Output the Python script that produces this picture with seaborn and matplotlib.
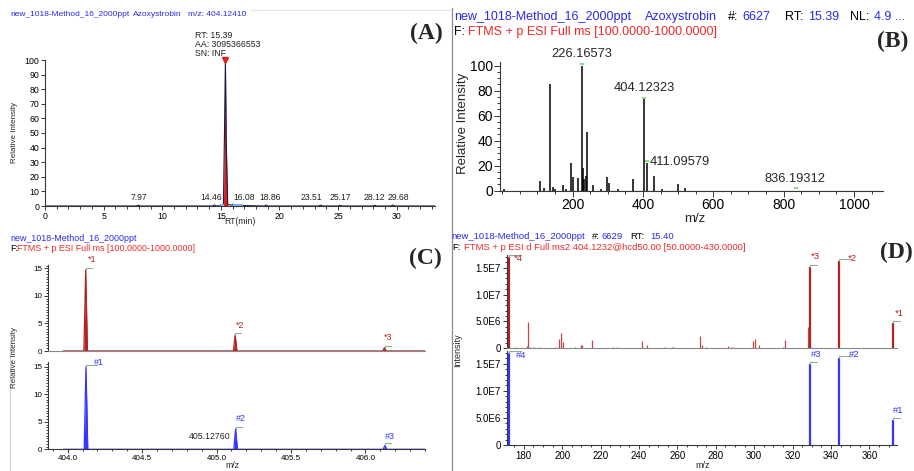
import numpy as np
import pandas as pd
import matplotlib
matplotlib.use("Agg")
import matplotlib.pyplot as plt
import seaborn as sns
from matplotlib.ticker import MultipleLocator, FixedLocator, FuncFormatter, NullFormatter
from matplotlib.lines import Line2D

# ---------------- data ----------------
# (A) extracted ion chromatogram  m/z 404.12410
a_rt = [0.0, 7.80, 7.97, 8.15, 14.30, 14.46, 14.62, 15.22, 15.32, 15.39, 15.46, 15.58,
        15.95, 16.08, 16.25, 18.70, 18.86, 19.02, 23.35, 23.51, 23.67, 25.00, 25.17, 25.34,
        27.95, 28.12, 28.29, 29.50, 29.68, 29.85, 33.27]
a_int = [0, 0, 0.5, 0, 0, 0.7, 0, 0.3, 55, 100, 45, 1.0,
         0.6, 1.2, 0.4, 0, 0.6, 0, 0, 0.6, 0, 0, 0.4, 0,
         0, 0.4, 0, 0, 0.6, 0, 0]
a_label_rt = [7.97, 14.46, 16.08, 18.86, 23.51, 25.17, 28.12, 29.68]
a_label_txt = ["7.97", "14.46", "16.08", "18.86", "23.51", "25.17", "28.12", "29.68"]
a_apex_rt = 15.39
a_apex_int = 100
a_win_start = [14.95, 16.00]
a_win_end = [15.28, 16.85]

# (B) full-scan spectrum at RT 15.39
b_mz = [5, 107.7, 120, 136.1, 145.5, 150, 172, 181, 194.9, 200.5, 216.5, 226.17, 230.7, 233.5,
        237.5, 242, 257.4, 280, 298.9, 303.7, 330, 371, 404.12, 411.10, 431.5, 455, 500.6, 519.6]
b_int = [1, 8, 2, 85, 3, 1.5, 4.5, 1.5, 22, 11, 10, 100, 18, 9,
         12, 47, 4.5, 1, 10.7, 6.5, 1, 9, 73, 22.5, 11.7, 1.5, 5, 2]
b_lab_mz = [226.17, 404.12, 411.10, 836.19]
b_lab_int = [100, 73, 22.5, 0.5]
b_lab_txt = ["226.16573", "404.12323", "411.09579", "836.19312"]

# (C) isotope pattern: measured (red) vs theoretical (blue)
c_up_mz = [404.121, 405.125, 406.128]
c_up_int = [14.7, 2.9, 0.6]
c_up_tag = ["*1", "*2", "*3"]
c_lo_mz = [404.123, 405.128, 406.131]
c_lo_int = [15.0, 3.7, 0.7]
c_lo_tag = ["#1", "#2", "#3"]

# (D) MS2 spectrum
d_main_mz = [172.04, 329.08, 344.10, 372.10]
d_main_up = [1.70e7, 1.51e7, 1.63e7, 4.65e6]
d_main_lo = [1.70e7, 1.50e7, 1.60e7, 4.60e6]
d_up_tag = ["*4", "*3", "*2", "*1"]
d_lo_tag = ["#4", "#3", "#2", "#1"]
d_minor_mz = [175.8, 181.5, 182.3, 183.0, 185.3, 188.3, 196.3, 198.3, 199.4, 200.2, 206.7,
              209.6, 210.5, 215.4, 226.3, 228.4, 241.4, 244.3, 253.5, 257.0, 258.0, 271.6,
              272.6, 274.9, 286.5, 288.0, 289.0, 299.5, 300.6, 302.7, 314.8, 316.0, 327.8, 328.3]
d_minor_int = [0.2e6, 0.4e6, 4.8e6, 0.3e6, 0.3e6, 0.3e6, 0.3e6, 1.7e6, 2.9e6, 1.1e6, 0.3e6,
               0.6e6, 0.6e6, 1.5e6, 0.2e6, 0.2e6, 1.4e6, 0.6e6, 0.2e6, 0.2e6, 0.2e6, 2.3e6,
               0.7e6, 0.3e6, 0.5e6, 0.2e6, 0.2e6, 1.4e6, 1.8e6, 0.6e6, 0.3e6, 1.5e6, 4.0e6, 3.8e6]

# ---------------- figure ----------------
sns.set_theme(style="ticks")
plt.rcParams['font.family'] = ['Liberation Sans', 'DejaVu Sans']
plt.rcParams['axes.facecolor'] = 'white'

W, H = 914, 471
fig = plt.figure(figsize=(W / 100, H / 100), dpi=100)
fig.patch.set_facecolor('white')

BLUE = '#2A2AF0'
RED = '#F02828'
DRED = '#B22222'
LBLUE = '#3535FF'
LEAD = '#8FAE8F'
PT = 72 / 100.0  # px -> points


def px_axes(l, t, r, b):
    return fig.add_axes([l / W, 1 - b / H, (r - l) / W, (b - t) / H])


def style(ax, fs, mj=3.5, mn=2.0):
    sns.despine(ax=ax)
    for s in ['left', 'bottom']:
        ax.spines[s].set_color('#383838')
        ax.spines[s].set_linewidth(0.8)
    ax.tick_params(which='both', direction='out', colors='#383838', labelcolor='black',
                   labelsize=fs, width=0.7)
    ax.tick_params(which='major', length=mj, pad=1.2)
    ax.tick_params(which='minor', length=mn)
    ax.grid(False)


def ftext(x, y, s, **kw):
    return fig.text(x / W, 1 - y / H, s, **kw)


def leader(ax, x, y, dx, dy, color):
    ax.annotate("", xy=(x, y), xytext=(dx, dy), textcoords='offset points',
                arrowprops=dict(arrowstyle='-', color=color, lw=0.8, shrinkA=0, shrinkB=0,
                                connectionstyle='angle,angleA=0,angleB=90,rad=0'),
                annotation_clip=False)


def tag(ax, x, y, s, dx_px, dy_px, color, fs, ha='center'):
    ax.annotate(s, xy=(x, y), xytext=(dx_px * PT, dy_px * PT), textcoords='offset points',
                ha=ha, va='center', color=color, fontsize=fs, annotation_clip=False)


# ---------- (A) ----------
axA = px_axes(45, 60, 435, 206)
style(axA, 6.3, 3, 1.8)
dfA = pd.DataFrame({'rt': a_rt, 'int': a_int})
mask = (dfA.rt >= 15.22) & (dfA.rt <= 15.58)
axA.fill_between(dfA.rt[mask], 0, dfA['int'][mask], color='#E02020', lw=0)
sns.lineplot(data=dfA, x='rt', y='int', ax=axA, color='#1a1a40', lw=0.8,
             estimator=None, sort=False)
for s0, s1 in zip(a_win_start, a_win_end):
    axA.hlines(0.8, s0, s1, color='#7FB2E5', lw=1.5)
axA.plot([a_apex_rt], [a_apex_int], marker='v', color='#E02020', ms=4, clip_on=False)
axA.set_xlim(0, 33.27)
axA.set_ylim(0, 100)
axA.xaxis.set_major_locator(MultipleLocator(5))
axA.xaxis.set_minor_locator(MultipleLocator(1))
axA.yaxis.set_major_locator(MultipleLocator(10))
axA.set_xlabel('')
axA.set_ylabel('')
a_dx = [0, -3, 11, 4, -9, 0, 0, 5]
for rt, t, dx in zip(a_label_rt, a_label_txt, a_dx):
    axA.annotate(t, xy=(rt, 0), xytext=(dx * PT, 3.5 * PT), textcoords='offset points',
                 ha='center', va='bottom', fontsize=6.2, color='#202020')
ftext(195, 35, 'RT: 15.39', fontsize=6.3, va='center', ha='left', color='#202020')
ftext(195, 44.5, 'AA: 3095366553', fontsize=6.3, va='center', ha='left', color='#202020')
ftext(195, 53, 'SN: INF', fontsize=6.3, va='center', ha='left', color='#202020')
ftext(15, 133, 'Relative Intensity', rotation=90, fontsize=5.8, ha='center', va='center')
ftext(240, 222, 'RT(min)', fontsize=6.2, ha='center', va='center')
ftext(10, 15, 'new_1018-Method_16_2000ppt', fontsize=6, color=BLUE, va='center')
ftext(133.3, 15, 'Azoxystrobin', fontsize=6, color=BLUE, va='center')
ftext(188.3, 15, 'm/z: 404.12410', fontsize=6, color=BLUE, va='center')

# ---------- (B) ----------
axB = px_axes(500, 62, 883.3, 190.7)
style(axB, 10, 4, 2.2)
axB.vlines(b_mz, 0, b_int, color='black', lw=1.1)
axB.hlines(0, -6, 1083, color='black', lw=0.8)
axB.set_xlim(-6, 1083)
axB.set_ylim(0, 103)
axB.xaxis.set_major_locator(MultipleLocator(200))
axB.xaxis.set_minor_locator(MultipleLocator(50))
axB.yaxis.set_major_locator(MultipleLocator(20))
axB.yaxis.set_minor_locator(MultipleLocator(5))
axB.set_xticks([200, 400, 600, 800, 1000])
axB.plot(b_lab_mz, [v + 1.5 for v in b_lab_int], ls='none', marker='_', color='#66DD66',
         ms=3, mew=1.2, clip_on=False)
axB.annotate(b_lab_txt[0], xy=(b_lab_mz[0], b_lab_int[0]), xytext=(0, 12 * PT),
             textcoords='offset points', ha='center', va='center', fontsize=9.3,
             annotation_clip=False)
axB.annotate(b_lab_txt[1], xy=(b_lab_mz[1], b_lab_int[1]), xytext=(0, 11.5 * PT),
             textcoords='offset points', ha='center', va='center', fontsize=9.3)
axB.annotate(b_lab_txt[2], xy=(b_lab_mz[2], b_lab_int[2]), xytext=(3 * PT, 1 * PT),
             textcoords='offset points', ha='left', va='center', fontsize=9.3)
axB.annotate(b_lab_txt[3], xy=(b_lab_mz[3], b_lab_int[3]), xytext=(-1 * PT, 11 * PT),
             textcoords='offset points', ha='center', va='center', fontsize=9.3)
ftext(463, 123, 'Relative Intensity', rotation=90, fontsize=9.5, ha='center', va='center')
ftext(695, 219, 'm/z', fontsize=9.5, ha='center', va='center')
for x, s, c in [(454, 'new_1018-Method_16_2000ppt', BLUE), (645, 'Azoxystrobin', BLUE),
                (728, '#:', 'black'), (742.7, '6627', BLUE), (785, 'RT:', 'black'),
                (808, '15.39', BLUE), (850, 'NL:', 'black'), (874, '4.9 ...', BLUE)]:
    ftext(x, 16.7, s, fontsize=9, color=c, va='center')
ftext(454, 32.3, 'F:', fontsize=9, color='black', va='center')
ftext(468.3, 32.3, 'FTMS + p ESI Full ms [100.0000-1000.0000]', fontsize=9, color=RED,
      va='center')

# ---------- (C) ----------
def profile(centers, heights, lo, hi, hw):
    xs, ys = [lo], [0.0]
    for c, h in zip(centers, heights):
        xs += [c - hw, c, c + hw]
        ys += [0.0, h, 0.0]
    xs.append(hi)
    ys.append(0.0)
    return pd.DataFrame({'mz': xs, 'int': ys})

C_XL = (403.87, 406.40)
axC1 = px_axes(48.3, 265, 425, 351)
axC2 = px_axes(48.3, 362, 425, 449.3)
for ax, mz, it, col, tags, top in [(axC1, c_up_mz, c_up_int, DRED, c_up_tag, 15.6),
                                   (axC2, c_lo_mz, c_lo_int, LBLUE, c_lo_tag, 15.85)]:
    style(ax, 5.8, 3, 1.6)
    dfc = profile(mz, it, C_XL[0] + 0.1, C_XL[1], 0.012)
    ax.fill_between(dfc.mz, 0, dfc['int'], color=col, lw=0)
    sns.lineplot(data=dfc, x='mz', y='int', ax=ax, color=col, lw=0.9, estimator=None,
                 sort=False)
    ax.set_xlim(*C_XL)
    ax.set_ylim(0, top)
    ax.yaxis.set_major_locator(FixedLocator([0, 5, 10, 15]))
    ax.yaxis.set_minor_locator(MultipleLocator(0.5))
    ax.xaxis.set_major_locator(MultipleLocator(0.5))
    ax.xaxis.set_minor_locator(MultipleLocator(0.1))
    ax.set_xlabel('')
    ax.set_ylabel('')
axC1.tick_params(axis='x', which='both', length=0, labelbottom=False)
axC1.spines['bottom'].set_color('#888888')
axC2.xaxis.set_major_formatter(FuncFormatter(lambda v, p: f"{v:.1f}"))

c_up_off = [(6.6, 10), (5.4, 10), (4, 10)]
for x, y, t, (dx, dy) in zip(c_up_mz, c_up_int, c_up_tag, c_up_off):
    leader(axC1, x, y, 4.5, 1.5, LEAD)
    tag(axC1, x, y, t, dx, dy, DRED, 6.5)
c_lo_off = [(13.4, 4.4), (5.7, 10), (5, 9)]
for i, (x, y, t, (dx, dy)) in enumerate(zip(c_lo_mz, c_lo_int, c_lo_tag, c_lo_off)):
    leader(axC2, x, y, 8 if i == 0 else 4.5, 1.5, LEAD)
    tag(axC2, x, y, t, dx, dy, LBLUE, 6.5)
axC2.annotate('405.12760', xy=(c_lo_mz[1], c_lo_int[1]), xytext=(-5 * PT, -8 * PT),
              textcoords='offset points', ha='right', va='center', fontsize=6.3)
ftext(15, 357, 'Relative Intensity', rotation=90, fontsize=5.8, ha='center', va='center')
ftext(232, 466, 'm/z', fontsize=6.3, ha='center', va='center')
ftext(10, 238.5, 'new_1018-Method_16_2000ppt', fontsize=6.4, color=BLUE, va='center')
ftext(10, 248.3, 'F:', fontsize=6.4, color='black', va='center')
ftext(17.3, 248.3, 'FTMS + p ESI Full ms [100.0000-1000.0000]', fontsize=6.4, color=RED,
      va='center')

# ---------- (D) ----------
D_XL = (171.1, 374.2)
D_TOP = 1.735e7
axD1 = px_axes(506.7, 255, 896.7, 348.3)
axD2 = px_axes(506.7, 351, 896.7, 445)
sci = {0: '0', 5e6: '5.0E6', 1e7: '1.0E7', 1.5e7: '1.5E7'}
for ax in (axD1, axD2):
    style(ax, 7, 3, 1.6)
    ax.set_xlim(*D_XL)
    ax.set_ylim(0, D_TOP)
    ax.yaxis.set_major_locator(FixedLocator([0, 5e6, 1e7, 1.5e7]))
    ax.yaxis.set_major_formatter(FuncFormatter(lambda v, p: sci.get(round(v), '')))
    ax.yaxis.set_minor_locator(MultipleLocator(1e6))
    ax.xaxis.set_major_locator(MultipleLocator(20))
    ax.xaxis.set_minor_locator(MultipleLocator(5))
axD1.vlines(d_minor_mz, 0, d_minor_int, color='#C04848', lw=0.9)
axD1.vlines(d_main_mz, 0, d_main_up, color=DRED, lw=1.6)
axD2.vlines(d_main_mz, 0, d_main_lo, color=LBLUE, lw=1.6)
axD1.tick_params(axis='x', which='both', length=0, labelbottom=False)
axD1.spines['bottom'].set_color('#888888')

d_up_off = [(9.5, -2), (5, 10.7), (13.4, 2.5), (6.7, 10)]
d_up_lead = [9, 5, 9, 5]
for x, y, t, (dx, dy), ld in zip(d_main_mz, d_main_up, d_up_tag, d_up_off, d_up_lead):
    leader(axD1, x, y, ld, 1.5, LEAD)
    tag(axD1, x, y, t, dx, dy, DRED, 6.8)
d_lo_off = [(13, -3), (6, 9), (15.7, 3.8), (5.7, 10)]
for x, y, t, (dx, dy), ld in zip(d_main_mz, d_main_lo, d_lo_tag, d_lo_off, d_up_lead):
    leader(axD2, x, y, ld, 1.5, LEAD)
    tag(axD2, x, y, t, dx, dy, LBLUE, 6.8)
ftext(458, 350, 'Intensity', rotation=90, fontsize=6.5, ha='center', va='center')
ftext(703, 465, 'm/z', fontsize=6.5, ha='center', va='center')
for x, s, c in [(451.7, 'new_1018-Method_16_2000ppt', BLUE), (591.7, '#:', 'black'),
                (601.7, '6629', BLUE), (630, 'RT:', 'black'), (650, '15.40', BLUE)]:
    ftext(x, 236.7, s, fontsize=6.8, color=c, va='center')
ftext(452, 247.3, 'F:', fontsize=6.8, color='black', va='center')
ftext(464, 247.3, 'FTMS + p ESI d Full ms2 404.1232@hcd50.00 [50.0000-430.0000]',
      fontsize=6.8, color=RED, va='center')

# ---------- panel letters & frame lines ----------
for x, y, s in [(426.5, 33, '(A)'), (892.5, 41, '(B)'), (425.5, 258.5, '(C)'),
                (896.5, 252.5, '(D)')]:
    ftext(x, y, s, fontsize=17, fontweight='bold', ha='center', va='center',
          family=['Liberation Serif', 'DejaVu Serif'])
fig.add_artist(Line2D([452 / W, 452 / W], [0, 1 - 8 / H], color='#8C8C8C', lw=0.9))
fig.add_artist(Line2D([10 / W, 10 / W], [0, 1 - 340 / H], color='#D0D0D0', lw=0.8))
fig.add_artist(Line2D([250 / W, 450 / W], [1 - 10 / H, 1 - 10 / H], color='#E4E4E4', lw=0.8))

fig.savefig('out.png', dpi=100, facecolor='white')
